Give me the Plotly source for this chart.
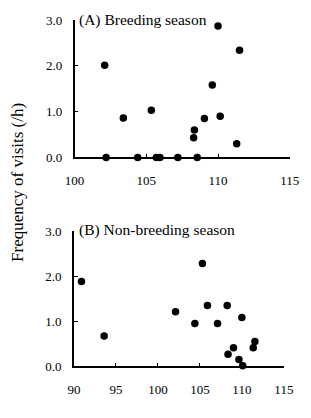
import plotly.graph_objects as go

# Panel A: breeding season
a_x = [102.1, 102.2, 103.4, 104.4, 105.35, 105.7, 105.95, 107.2, 108.3, 108.35, 108.55, 109.05, 109.6, 110.0, 110.15, 111.3, 111.5]
a_y = [2.01, 0.0, 0.86, 0.0, 1.03, 0.0, 0.0, 0.0, 0.43, 0.60, 0.0, 0.85, 1.58, 2.87, 0.90, 0.30, 2.34]

# Panel B: non-breeding season
b_x = [90.9, 93.6, 102.1, 104.4, 105.3, 105.9, 107.1, 108.25, 108.35, 109.0, 109.65, 110.0, 110.1, 111.35, 111.55]
b_y = [1.88, 0.67, 1.21, 0.95, 2.28, 1.35, 0.95, 1.35, 0.27, 0.41, 0.15, 1.08, 0.01, 0.41, 0.55]

y_ticks = [0, 1, 2, 3]
a_x_ticks = [100, 105, 110, 115]
b_x_ticks = [90, 95, 100, 105, 110, 115]

W, H = 311, 418
FONT = "Liberation Serif, Times New Roman, serif"

fig = go.Figure()
marker = dict(color="black", size=7.5)
fig.add_trace(go.Scatter(x=a_x, y=a_y, mode="markers", marker=marker,
                         xaxis="x", yaxis="y", cliponaxis=False, showlegend=False))
fig.add_trace(go.Scatter(x=b_x, y=b_y, mode="markers", marker=marker,
                         xaxis="x2", yaxis="y2", cliponaxis=False, showlegend=False))

axis_common = dict(showline=True, linecolor="black", linewidth=1.5, ticks="inside",
                   ticklen=4, tickwidth=1.3, tickcolor="black", showgrid=False,
                   zeroline=False, tickfont=dict(family=FONT, size=13, color="black"))

fig.update_layout(
    width=W, height=H,
    margin=dict(l=0, r=0, t=0, b=0),
    paper_bgcolor="white", plot_bgcolor="white",
    font=dict(family=FONT, color="black"),
    xaxis=dict(domain=[69 / W, 299 / W], range=[100, 115], tickvals=a_x_ticks,
               anchor="y", ticklabelstandoff=10, **axis_common),
    yaxis=dict(domain=[1 - 156 / H, 1 - 13.5 / H], range=[0, 3], tickvals=y_ticks,
               tickformat=".1f", anchor="x", ticklabelstandoff=8, **axis_common),
    xaxis2=dict(domain=[68.3 / W, 292.7 / W], range=[90, 115], tickvals=b_x_ticks,
                anchor="y2", ticklabelstandoff=10, **axis_common),
    yaxis2=dict(domain=[1 - 372.7 / H, 1 - 232.3 / H], range=[0, 3], tickvals=y_ticks,
                tickformat=".1f", anchor="x2", ticklabelstandoff=8, **axis_common),
    annotations=[
        dict(text="(A) Breeding season", x=72 / W, y=1 - 13 / H, xref="paper", yref="paper",
             xanchor="left", yanchor="middle", showarrow=False,
             font=dict(family=FONT, size=15.5, color="black")),
        dict(text="(B) Non-breeding season", x=72 / W, y=1 - 231 / H, xref="paper", yref="paper",
             xanchor="left", yanchor="middle", showarrow=False,
             font=dict(family=FONT, size=15.5, color="black")),
        dict(text="Frequency of visits (/h)", x=8 / W, y=1 - 182 / H, xref="paper", yref="paper",
             xanchor="center", yanchor="middle", textangle=-90, showarrow=False,
             font=dict(family=FONT, size=17, color="black")),
    ],
)

fig.write_html("out.html")
